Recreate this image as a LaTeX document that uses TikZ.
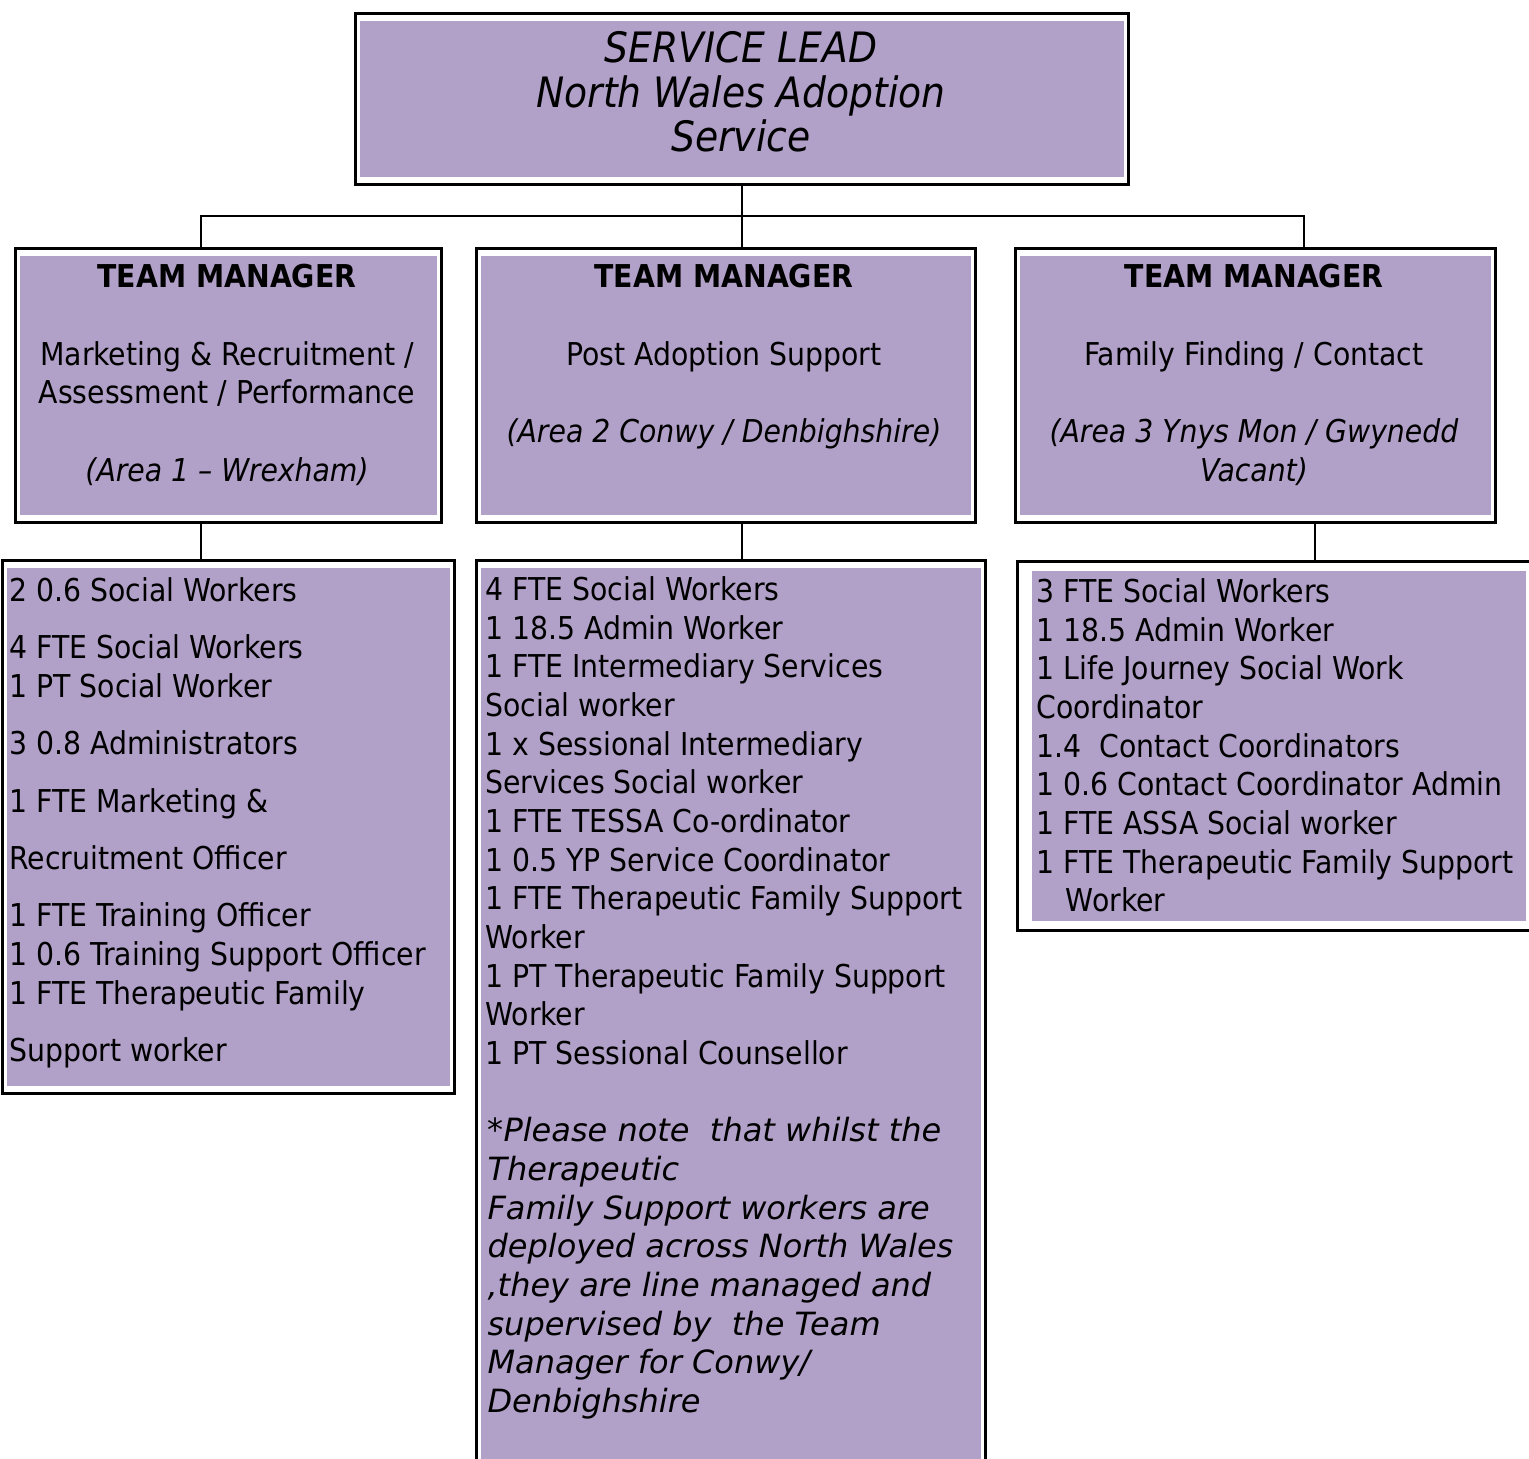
\documentclass[tikz,border=0pt]{standalone}
\usepackage{fontspec}
\setmainfont{DejaVu Sans Condensed}
\newfontfamily\notefont{DejaVu Sans}
\usetikzlibrary{positioning}
\definecolor{lilac}{RGB}{177,160,199}

\begin{document}
\begin{tikzpicture}[x=0.375pt,y=-0.375pt,
    postbox/.style args={#1x#2}{draw,line width=0.95pt,anchor=north west,inner sep=0pt,
        minimum width=#1*0.375pt,minimum height=#2*0.375pt},
    txt/.style={inner sep=0pt,font=\fontsize{11.8}{14.5}\selectfont},
    link/.style={line width=0.6pt}]

                \useasboundingbox (0,0) rectangle (1529,1458);

                \node[postbox=773x171] (lead) at (354,12) {};
                \node[postbox=426x274] (mgrA) at (14,247) {};
                \node[postbox=499x274] (mgrB) at (475,247) {};
                \node[postbox=480x274] (mgrC) at (1014,247) {};
                \node[postbox=452x533] (staffA) at (1,559) {};
                \node[postbox=509x920] (staffB) at (475,559) {};
                \node[postbox=524x369] (staffC) at (1016,560) {};

                \foreach \n in {lead, mgrA, mgrB, mgrC, staffA, staffB}
                    {
                    \fill[lilac] ([shift={(6,9)}]\n.north west) rectangle ([shift={(-6,-9)}]\n.south east);
                    }
                \fill[lilac] ([shift={(16,11)}]staffC.north west) rectangle ([shift={(-17,-11)}]staffC.south east);

                \node[txt,font=\itshape\fontsize{15.7}{16.7}\selectfont,align=center,anchor=north] (leadtext) at (741,31)
                    {SERVICE LEAD\\North Wales Adoption\\Service};

                \node[txt,align=center,anchor=north] (mgrAtext) at (227,264)
                    {\textbf{TEAM MANAGER}\\[14.5pt]Marketing \& Recruitment /\\Assessment / Performance\\[14.5pt]\textit{(Area 1 – Wrexham)}};
                \node[txt,align=center,anchor=north] (mgrBtext) at (724,264)
                    {\textbf{TEAM MANAGER}\\[14.5pt]Post Adoption Support\\[14.5pt]\textit{(Area 2 Conwy / Denbighshire)}};
                \node[txt,align=center,anchor=north] (mgrCtext) at (1254,264)
                    {\textbf{TEAM MANAGER}\\[14.5pt]Family Finding / Contact\\[14.5pt]\textit{(Area 3 Ynys Mon / Gwynedd}\\\textit{Vacant)}};

                \node[txt,align=left,anchor=north west] (staffAtext) at (9,577)
                    {2 0.6 Social Workers\\[7pt]
                     4 FTE Social Workers\\
                     1 PT Social Worker\\[7pt]
                     3 0.8 Administrators\\[7pt]
                     1 FTE Marketing \&\\[7pt]
                     Recruitment Officer\\[7pt]
                     1 FTE Training Officer\\
                     1 0.6 Training Support Officer\\
                     1 FTE Therapeutic Family\\[7pt]
                     Support worker};

                \node[txt,align=left,anchor=north west] (staffBtext) at (485,576)
                    {4 FTE Social Workers\\
                     1 18.5 Admin Worker\\
                     1 FTE Intermediary Services\\
                     Social worker\\
                     1 x Sessional Intermediary\\
                     Services Social worker\\
                     1 FTE TESSA Co-ordinator\\
                     1 0.5 YP Service Coordinator\\
                     1 FTE Therapeutic Family Support\\
                     Worker\\
                     1 PT Therapeutic Family Support\\
                     Worker\\
                     1 PT Sessional Counsellor};

                \node[txt,font=\notefont\itshape\fontsize{12}{14.5}\selectfont,align=left,anchor=north west] (notetext) at (487,1117)
                    {{\upshape *}Please note~ that whilst the\\
                     Therapeutic\\
                     Family Support workers are\\
                     deployed across North Wales\\
                     ,they are line managed and\\
                     supervised by~ the Team\\
                     Manager for Conwy/\\
                     Denbighshire};

                \node[txt,align=left,anchor=north west] (staffCtext) at (1036,578)
                    {3 FTE Social Workers\\
                     1 18.5 Admin Worker\\
                     1 Life Journey Social Work\\
                     Coordinator\\
                     1.4~ Contact Coordinators\\
                     1 0.6 Contact Coordinator Admin\\
                     1 FTE ASSA Social worker\\
                     1 FTE Therapeutic Family Support\\
                     \hspace*{11pt}Worker};

                \coordinate (busA) at (201,216);
                \coordinate (busC) at (1304,216);
                \coordinate (dropC) at (1315,560);

                \draw[link] (lead.south) -- (lead.south |- mgrB.north);
                \draw[link] (busA |- mgrA.north) -- (busA) -- (busC) -- (busC |- mgrC.north);
                \draw[link] (busA |- mgrA.south) -- (busA |- staffA.north);
                \draw[link] (lead.south |- mgrB.south) -- (lead.south |- staffB.north);
                \draw[link] (dropC |- mgrC.south) -- (dropC |- staffC.north);

            \end{tikzpicture}
\end{document}
